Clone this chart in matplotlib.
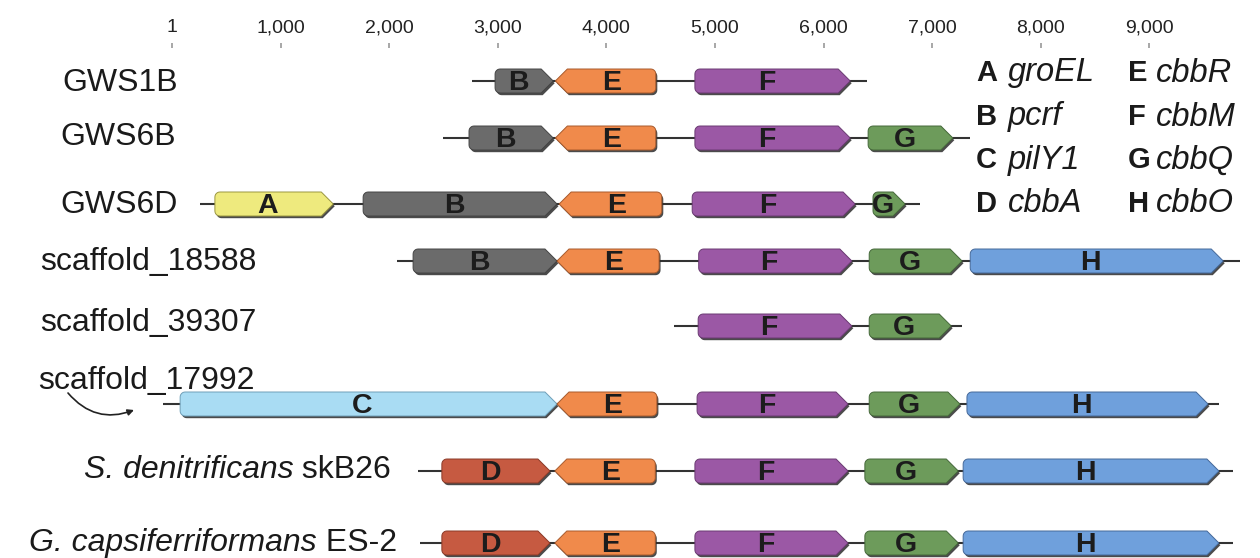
import numpy as np
import matplotlib
matplotlib.use("Agg")
import matplotlib.pyplot as plt
from matplotlib.patches import Polygon

# ---------------- data ----------------
row_names = ["GWS1B", "GWS6B", "GWS6D", "scaffold_18588", "scaffold_39307",
             "scaffold_17992", "S. denitrificans skB26",
             "G. capsiferriformans ES-2"]
row_italic_part = ["", "", "", "", "", "", "S. denitrificans",
                   "G. capsiferriformans"]
backbone_start = [2760, 2495, 260, 2070, 4620, -85, 2265, 2285]
backbone_end = [6400, 7350, 6890, 9835, 7275, 9640, 9770, 9770]
gene_letters = [
    ["B", "E", "F"],
    ["B", "E", "F", "G"],
    ["A", "B", "E", "F", "G"],
    ["B", "E", "F", "G", "H"],
    ["F", "G"],
    ["C", "E", "F", "G", "H"],
    ["D", "E", "F", "G", "H"],
    ["D", "E", "F", "G", "H"],
]
gene_starts = [
    [2975, 3530, 4815],
    [2735, 3530, 4815, 6410],
    [395, 1760, 3565, 4790, 6455],
    [2220, 3545, 4850, 6420, 7350],
    [4845, 6420],
    [75, 3545, 4835, 6420, 7320],
    [2485, 3525, 4815, 6380, 7285],
    [2485, 3525, 4815, 6380, 7285],
]
gene_ends = [
    [3510, 4455, 6245],
    [3510, 4455, 6245, 7190],
    [1485, 3545, 4510, 6290, 6750],
    [3545, 4485, 6260, 7275, 9680],
    [6260, 7175],
    [3545, 4465, 6225, 7255, 9540],
    [3480, 4450, 6225, 7240, 9640],
    [3480, 4450, 6225, 7240, 9640],
]
reverse_genes = ["E"]
legend_letters = ["A", "B", "C", "D", "E", "F", "G", "H"]
legend_names = ["groEL", "pcrf", "pilY1", "cbbA", "cbbR", "cbbM", "cbbQ", "cbbO"]
tick_values = [1, 1000, 2000, 3000, 4000, 5000, 6000, 7000, 8000, 9000]
tick_labels = ["1", "1,000", "2,000", "3,000", "4,000", "5,000", "6,000",
               "7,000", "8,000", "9,000"]

# ---------------- style ----------------
gene_colors = {"A": "#eeea7e", "B": "#6b6b6b", "C": "#a9dcf3", "D": "#c65a41",
               "E": "#f08a4b", "F": "#9b58a5", "G": "#6d9b5b", "H": "#6fa0dc"}
edge_colors = {"A": "#9a9640", "B": "#444444", "C": "#6f9fb8", "D": "#8a3a28",
               "E": "#a85a2c", "F": "#6a3a72", "G": "#45683a", "H": "#45699a"}

plt.rcParams["font.family"] = ["Liberation Sans", "DejaVu Sans"]

W, H = 1260, 558
PX_PER_BP = 0.1086
X0 = 172
AX_TOP = 48

fig = plt.figure(figsize=(W / 100, H / 100), dpi=100)
fig.patch.set_facecolor("white")
ax = fig.add_axes([0, 0, 1, 1 - AX_TOP / H])
ax.set_xlim(-X0 / PX_PER_BP, (W - X0) / PX_PER_BP)
ax.set_ylim(H, AX_TOP)
for s in ax.spines.values():
    s.set_visible(False)
ax.set_yticks([])
ax.xaxis.tick_top()
ax.set_xticks(tick_values)
ax.set_xticklabels(tick_labels)
ax.tick_params(axis="x", top=True, bottom=False, direction="out", length=3.5,
               width=1.3, color="#a0a0a0", pad=5, labelsize=14,
               labelcolor="#222222")

row_y = [81, 138, 204, 261, 326, 404, 471, 543]
GENE_H = 24
HEAD_PX = 12
RAD_PX = 5


def px2bp(p):
    return (p - X0) / PX_PER_BP


def gene_points(start, end, y, reverse):
    L = end - start
    hl = min(HEAD_PX / PX_PER_BP, 0.6 * L)
    rx = RAD_PX / PX_PER_BP
    ry = RAD_PX
    h2 = GENE_H / 2
    pts = [(L - hl, h2), (L, 0), (L - hl, -h2)]
    for a in np.linspace(270, 180, 7):
        t = np.radians(a)
        pts.append((rx + rx * np.cos(t), -h2 + ry + ry * np.sin(t)))
    for a in np.linspace(180, 90, 7):
        t = np.radians(a)
        pts.append((rx + rx * np.cos(t), h2 - ry + ry * np.sin(t)))
    out = []
    for u, v in pts:
        x = end - u if reverse else start + u
        out.append((x, y + v))
    cx = (start + (L - hl) / 2) if not reverse else (start + hl + (L - hl) / 2)
    return np.array(out), cx


for i, name in enumerate(row_names):
    y = row_y[i]
    ax.plot([backbone_start[i], backbone_end[i]], [y, y], color="#333333",
            lw=1.5, zorder=1, solid_capstyle="butt")
    for letter, gs, ge in zip(gene_letters[i], gene_starts[i], gene_ends[i]):
        rev = letter in reverse_genes
        pts, cx = gene_points(gs, ge, y, rev)
        shadow = pts + np.array([1.5 / PX_PER_BP, 2.2])
        ax.add_patch(Polygon(shadow, closed=True, facecolor="#2b2b2b",
                             edgecolor="none", alpha=0.85, zorder=2))
        ax.add_patch(Polygon(pts, closed=True, facecolor=gene_colors[letter],
                             edgecolor=edge_colors[letter], lw=0.7, zorder=3))
        ax.text(cx, y + 1.5, letter, ha="center", va="center", fontsize=20.5,
                fontweight="bold", color="#1c1c1c", zorder=4)

# row labels (pixel layout)
label_pos = [(62, 83, "left"), (60, 137, "left"), (60, 205, "left"),
             (40, 262, "left"), (40, 323, "left"), (38, 381, "left"),
             (391, 470, "right"), (397, 543, "right")]
for name, ital, (lx, ly, ha) in zip(row_names, row_italic_part, label_pos):
    if not ital:
        fig.text(lx / W, 1 - ly / H, name, ha=ha, va="center", fontsize=23,
                 color="#1a1a1a")
    else:
        rest = name[len(ital):]
        t = fig.text(lx / W, 1 - ly / H, rest, ha="right", va="center",
                     fontsize=23, color="#1a1a1a")
        ax.annotate(ital, xy=(0, 0), xycoords=t, ha="right", va="bottom",
                    fontsize=23, style="italic", color="#1a1a1a",
                    annotation_clip=False)

# curved arrow for scaffold_17992
ax.annotate("", xy=(px2bp(134), 410), xytext=(px2bp(68), 393),
            arrowprops=dict(arrowstyle="-|>", connectionstyle="arc3,rad=0.35",
                            color="#222222", lw=1.2, mutation_scale=9,
                            shrinkA=0, shrinkB=0))

# legend
leg_rows_y = [73, 117, 160, 204]
leg_cols = [(976, 1008), (1128, 1156)]
for k, (lt, nm) in enumerate(zip(legend_letters, legend_names)):
    c = k // 4
    r = k % 4
    lx, nx = leg_cols[c]
    ly = leg_rows_y[r]
    fig.text(lx / W, 1 - ly / H, lt, ha="left", va="center", fontsize=21,
             fontweight="bold", color="#1a1a1a")
    fig.text(nx / W, 1 - ly / H, nm, ha="left", va="center", fontsize=23.5,
             style="italic", color="#1a1a1a")

fig.savefig("out.png", dpi=100, facecolor="white")
